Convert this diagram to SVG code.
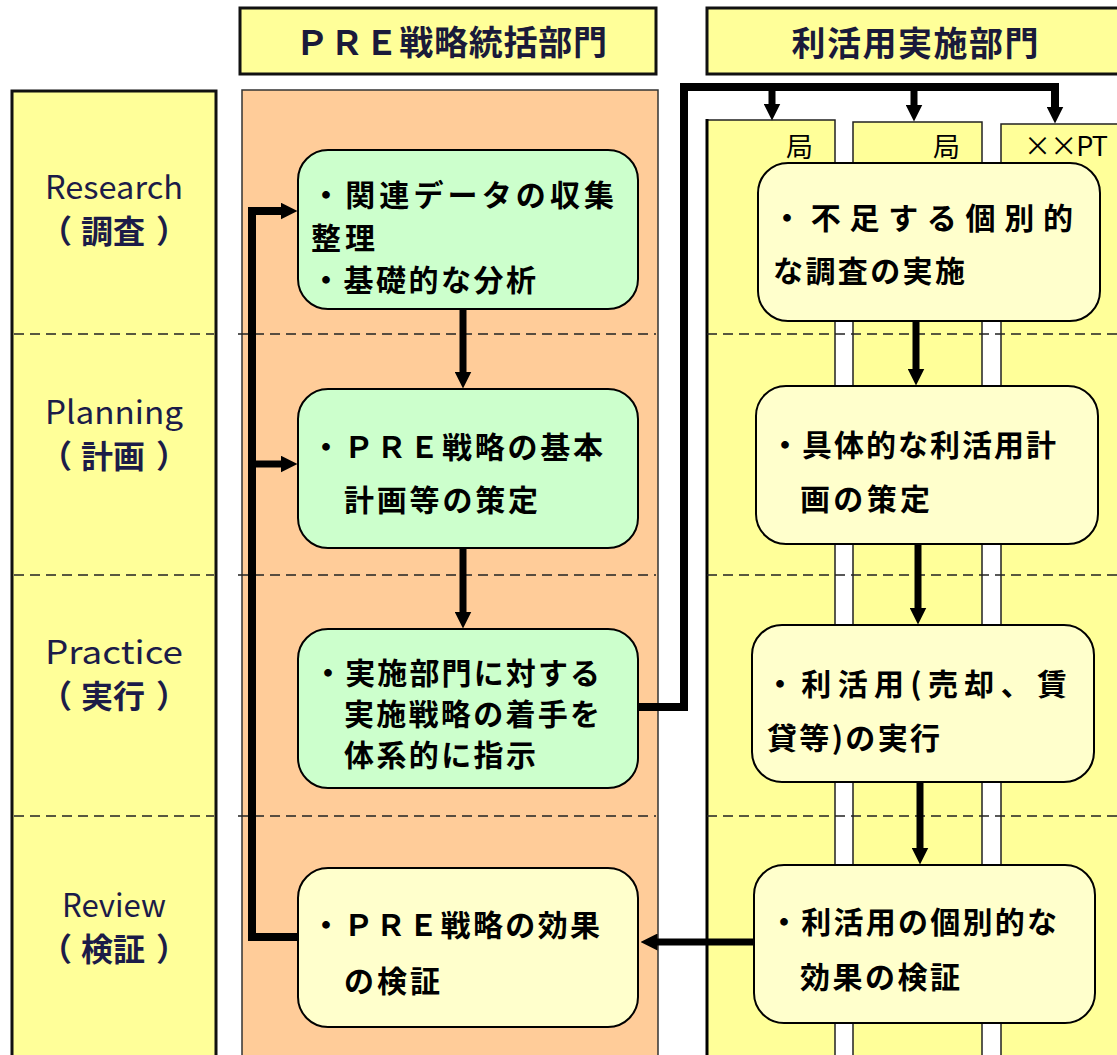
<svg xmlns="http://www.w3.org/2000/svg" width="1117" height="1055" viewBox="0 0 1117 1055">
<defs>
<style>
.hdr{fill:#FFFF99;stroke:#111;stroke-width:3}
.col{fill:#FFFF99;stroke:#222;stroke-width:1.5}
.ora{fill:#FFCC99;stroke:#333;stroke-width:1.5}
.gbox{fill:#CCFFCC;stroke:#000;stroke-width:2}
.ybox{fill:#FFFFCC;stroke:#000;stroke-width:2}
.dash{stroke:#222;stroke-width:1.4;stroke-dasharray:10 6;fill:none}
.con{stroke:#000;stroke-width:7;fill:none;stroke-linejoin:miter}
.big{stroke:#000;stroke-width:8;fill:none;stroke-linejoin:miter}
.bt{font-family:"Noto Sans CJK JP","Noto Sans CJK SC",sans-serif;font-weight:bold;font-size:30px;fill:#000}
.ht{font-family:"Noto Sans CJK JP","Noto Sans CJK SC",sans-serif;font-weight:bold;font-size:34px;fill:#1A1A3A}
.lat{font-family:"Noto Sans CJK JP","Noto Sans CJK SC",sans-serif;font-size:32px;fill:#1C1C48}
.par{font-family:"Noto Sans CJK JP","Noto Sans CJK SC",sans-serif;font-weight:bold;font-size:32px;fill:#1C1C48}
.lab{font-family:"Noto Sans CJK JP","Noto Sans CJK SC",sans-serif;font-size:27px;fill:#000}
</style>
<marker id="ah" viewBox="0 0 17 17" refX="0.5" refY="8.5" markerWidth="17" markerHeight="17" markerUnits="userSpaceOnUse" orient="auto">
<path d="M0,0 L17,8.5 L0,17 Z" fill="#000"/>
</marker>
</defs>

<g id="columns">
<rect class="hdr" x="240" y="8" width="416" height="66"/>
<rect class="hdr" x="707" y="8" width="420" height="66"/>
<rect x="12" y="91" width="204" height="980" fill="#FFFF99" stroke="#111" stroke-width="3"/>
<rect class="ora" x="242" y="90" width="416" height="980"/>
<rect class="col" x="707" y="120" width="128" height="950"/>
<rect class="col" x="853" y="122" width="129" height="950"/>
<rect class="col" x="1001" y="124" width="130" height="950"/>
<line x1="707" y1="119" x2="707" y2="1055" stroke="#000" stroke-width="3"/>
</g>

<g id="dividers">
<line class="dash" x1="14" y1="334" x2="214" y2="334"/>
<line class="dash" x1="238" y1="334" x2="656" y2="334"/>
<line class="dash" x1="707" y1="334" x2="1117" y2="334"/>
<line class="dash" x1="14" y1="575" x2="214" y2="575"/>
<line class="dash" x1="238" y1="575" x2="656" y2="575"/>
<line class="dash" x1="707" y1="575" x2="1117" y2="575"/>
<line class="dash" x1="14" y1="816" x2="214" y2="816"/>
<line class="dash" x1="238" y1="816" x2="656" y2="816"/>
<line class="dash" x1="707" y1="816" x2="1117" y2="816"/>
</g>

<g id="labels">
<text class="ht" x="451" y="55" text-anchor="middle" textLength="312">ＰＲＥ戦略統括部門</text>
<text class="ht" x="915" y="56" text-anchor="middle" textLength="247">利活用実施部門</text>
<text class="lat" x="114" y="199" text-anchor="middle" textLength="138" lengthAdjust="spacingAndGlyphs">Research</text>
<text class="par" y="243"><tspan x="40">（</tspan><tspan x="81">調査</tspan><tspan x="156">）</tspan></text>
<text class="lat" x="114" y="424" text-anchor="middle" textLength="138" lengthAdjust="spacingAndGlyphs">Planning</text>
<text class="par" y="468"><tspan x="40">（</tspan><tspan x="81">計画</tspan><tspan x="156">）</tspan></text>
<text class="lat" x="114" y="664" text-anchor="middle" textLength="138" lengthAdjust="spacingAndGlyphs">Practice</text>
<text class="par" y="708"><tspan x="40">（</tspan><tspan x="81">実行</tspan><tspan x="156">）</tspan></text>
<text class="lat" x="114" y="917" text-anchor="middle" textLength="104" lengthAdjust="spacingAndGlyphs">Review</text>
<text class="par" y="961"><tspan x="40">（</tspan><tspan x="81">検証</tspan><tspan x="156">）</tspan></text>
<text class="lab" x="786" y="157">局</text>
<text class="lab" x="933" y="157">局</text>
<text class="lab" x="1024" y="156" textLength="84">××PT</text>
</g>

<g id="connectors">
<line class="con" x1="463" y1="309" x2="463" y2="372" marker-end="url(#ah)"/>
<line class="con" x1="463" y1="548" x2="463" y2="612" marker-end="url(#ah)"/>
<line class="con" x1="916" y1="321" x2="916" y2="369" marker-end="url(#ah)"/>
<line class="con" x1="918" y1="544" x2="918" y2="608" marker-end="url(#ah)"/>
<line class="con" x1="920" y1="782" x2="920" y2="848" marker-end="url(#ah)"/>
<line class="con" x1="754" y1="942" x2="657" y2="942" marker-end="url(#ah)"/>
<path class="big" d="M638,707 H684 V87 H1055 V107" marker-end="url(#ah)"/>
<line class="con" x1="772" y1="87" x2="772" y2="104" marker-end="url(#ah)"/>
<line class="con" x1="914" y1="87" x2="914" y2="105" marker-end="url(#ah)"/>
<path class="big" d="M298,937 H252 V211 H281" marker-end="url(#ah)"/>
<line class="con" x1="252" y1="464" x2="281" y2="464" marker-end="url(#ah)"/>
</g>

<g id="box1">
<rect class="gbox" x="298" y="150" width="340" height="159" rx="30"/>
<text class="bt" x="311" y="206" textLength="303">・関連データの収集</text>
<text class="bt" x="311" y="249" textLength="64">整理</text>
<text class="bt" x="311" y="291" textLength="225">・基礎的な分析</text>
</g>
<g id="box2">
<rect class="gbox" x="298" y="389" width="340" height="159" rx="30"/>
<text class="bt" x="311" y="458" textLength="292">・ＰＲＥ戦略の基本</text>
<text class="bt" x="344" y="511" textLength="194">計画等の策定</text>
</g>
<g id="box3">
<rect class="gbox" x="298" y="629" width="340" height="159" rx="30"/>
<text class="bt" x="313" y="684" textLength="287">・実施部門に対する</text>
<text class="bt" x="344" y="725" textLength="256">実施戦略の着手を</text>
<text class="bt" x="344" y="766" textLength="192">体系的に指示</text>
</g>
<g id="box4">
<rect class="ybox" x="298" y="868" width="340" height="159" rx="30"/>
<text class="bt" x="311" y="936" textLength="289">・ＰＲＥ戦略の効果</text>
<text class="bt" x="344" y="992" textLength="96">の検証</text>
</g>
<g id="boxR1">
<rect class="ybox" x="758" y="163" width="342" height="158" rx="30"/>
<text class="bt" x="772" y="229" textLength="301">・不足する個別的</text>
<text class="bt" x="773" y="282" textLength="192">な調査の実施</text>
</g>
<g id="boxR2">
<rect class="ybox" x="756" y="386" width="342" height="158" rx="30"/>
<text class="bt" x="770" y="456" textLength="286">・具体的な利活用計</text>
<text class="bt" x="800" y="510" textLength="130">画の策定</text>
</g>
<g id="boxR3">
<rect class="ybox" x="752" y="625" width="342" height="157" rx="30"/>
<text class="bt" x="765" y="695" textLength="302">・利活用(売却、賃</text>
<text class="bt" x="767" y="749" textLength="173">貸等)の実行</text>
</g>
<g id="boxR4">
<rect class="ybox" x="754" y="865" width="341" height="158" rx="30"/>
<text class="bt" x="769" y="933" textLength="288">・利活用の個別的な</text>
<text class="bt" x="800" y="988" textLength="160">効果の検証</text>
</g>
</svg>
